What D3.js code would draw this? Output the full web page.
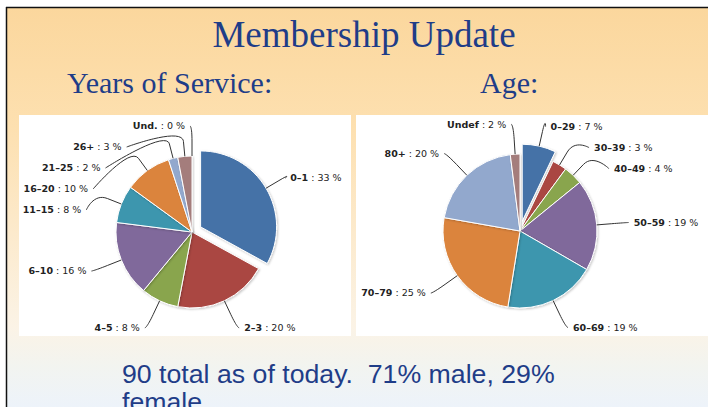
<!DOCTYPE html>
<html>
<head>
<meta charset="utf-8">
<script src="https://cdn.jsdelivr.net/npm/d3@7"></script>
<style>
  html, body { margin: 0; padding: 0; background: #fff; }
  svg { display: block; }
</style>
</head>
<body>
<div id="slide"></div>
<script>
// Years of service (percent)
const serviceCats = ["0–1", "2–3", "4–5", "6–10", "11–15", "16–20", "21–25", "26+", "Und."];
const serviceVals = [33, 20, 8, 16, 8, 10, 2, 3, 0];
// Age (percent)
const ageCats = ["0–29", "30–39", "40–49", "50–59", "60–69", "70–79", "80+", "Undef"];
const ageVals = [7, 3, 4, 19, 19, 25, 20, 2];
// Highcharts style palette
const palette = ["#4572A7", "#AA4643", "#89A54E", "#80699B", "#3D96AE", "#DB843D", "#92A8CD", "#A47D7C", "#B5CA92"];

const W = 708, H = 407;
const svg = d3.select("#slide").append("svg").attr("width", W).attr("height", H);
const defs = svg.append("defs");

// background gradient of the slide
const bg = defs.append("linearGradient").attr("id", "bg").attr("x1", 0).attr("x2", 0).attr("y1", 0).attr("y2", 1);
[[0, "#fbd79d"], [0.3, "#fde0b0"], [0.8, "#fbf3e6"], [0.9, "#f2f4f0"], [1, "#edf3fa"]]
  .forEach(([o, c]) => bg.append("stop").attr("offset", o).attr("stop-color", c));

const sh = defs.append("filter").attr("id", "shadow").attr("x", "-20%").attr("y", "-20%").attr("width", "140%").attr("height", "140%");
sh.append("feDropShadow").attr("dx", 1).attr("dy", 1).attr("stdDeviation", 1.2)
  .attr("flood-color", "#000").attr("flood-opacity", 0.22);

svg.append("rect").attr("x", 7).attr("y", 8).attr("width", W - 7).attr("height", H - 8).attr("fill", "url(#bg)");
svg.append("line").attr("x1", 6.5).attr("x2", 6.5).attr("y1", 7).attr("y2", H).attr("stroke", "#111").attr("stroke-width", 1.5);
svg.append("line").attr("x1", 6).attr("x2", W).attr("y1", 7.5).attr("y2", 7.5).attr("stroke", "#111").attr("stroke-width", 1.5);

const blue = "#1f3d88";
svg.append("text").attr("x", 364).attr("y", 47).attr("text-anchor", "middle")
  .attr("font-family", "Liberation Serif, serif").attr("font-size", 37).attr("fill", blue)
  .text("Membership Update");
svg.append("text").attr("x", 67).attr("y", 93)
  .attr("font-family", "Liberation Serif, serif").attr("font-size", 30).attr("fill", blue)
  .text("Years of Service:");
svg.append("text").attr("x", 480).attr("y", 93)
  .attr("font-family", "Liberation Serif, serif").attr("font-size", 30).attr("fill", blue)
  .text("Age:");

// white chart panels
svg.append("rect").attr("x", 19).attr("y", 115).attr("width", 332).attr("height", 221).attr("fill", "#fff");
svg.append("rect").attr("x", 356).attr("y", 115).attr("width", 352).attr("height", 221).attr("fill", "#fff");

function drawPie(cats, vals, cx, cy, r, slicedIdx) {
  const dist = 30, R = r + dist, off = 10, gap = 21;
  const g = svg.append("g");
  const pie = d3.pie().sort(null).value(d => d.v);
  const arcs = pie(cats.map((c, i) => ({ c, v: vals[i], i })));
  const arc = d3.arc().innerRadius(0).outerRadius(r);

  arcs.forEach(a => {
    a.mid = (a.startAngle + a.endAngle) / 2;
    a.sx = a.data.i === slicedIdx ? off * Math.sin(a.mid) : 0;
    a.sy = a.data.i === slicedIdx ? -off * Math.cos(a.mid) : 0;
    a.left = a.mid >= Math.PI;
    a.nx = cx + R * Math.sin(a.mid);
    a.ny = cy - R * Math.cos(a.mid);
    a.y = a.ny;
  });

  // spread labels on each side so they do not overlap
  [false, true].forEach(side => {
    const list = arcs.filter(a => a.left === side).sort((p, q) => p.ny - q.ny);
    const top = cy - R, bot = cy + R;
    list.forEach((a, k) => {
      a.y = Math.max(a.ny, top, k ? list[k - 1].y + gap : top);
    });
    for (let k = list.length - 1; k >= 0; k--) {
      const lim = k === list.length - 1 ? bot : list[k + 1].y - gap;
      if (list[k].y > lim) list[k].y = lim;
    }
    list.forEach(a => {
      const dy = a.y - cy;
      a.x = Math.abs(a.y - a.ny) > 1
        ? cx + (side ? -1 : 1) * Math.sqrt(Math.max(0, R * R - dy * dy))
        : a.nx;
    });
  });

  g.selectAll("path.slice").data(arcs).join("path")
    .attr("class", "slice")
    .attr("transform", a => `translate(${cx + a.sx},${cy + a.sy})`)
    .attr("d", arc)
    .attr("fill", a => palette[a.data.i])
    .attr("stroke", "#fff").attr("stroke-width", 1)
    .attr("filter", "url(#shadow)");

  // soft connectors
  g.selectAll("path.conn").data(arcs).join("path")
    .attr("class", "conn")
    .attr("fill", "none").attr("stroke", "#333").attr("stroke-width", 1)
    .attr("d", a => {
      const dir = a.left ? -1 : 1;
      const x0 = a.x + dir * 2, y0 = a.y;
      const bx = cx + a.sx + (r + dist / 2) * Math.sin(a.mid), by = cy + a.sy - (r + dist / 2) * Math.cos(a.mid);
      const ex = cx + a.sx + r * Math.sin(a.mid), ey = cy + a.sy - r * Math.cos(a.mid);
      return `M${x0},${y0}C${x0},${y0} ${2 * bx - ex},${2 * by - ey} ${bx},${by}L${ex},${ey}`;
    });

  const lab = g.selectAll("text.lab").data(arcs).join("text")
    .attr("class", "lab")
    .attr("x", a => a.x + (a.left ? -7 : 7))
    .attr("y", a => a.y).attr("dy", "0.35em")
    .attr("text-anchor", a => a.left ? "end" : "start")
    .attr("font-family", "DejaVu Sans, sans-serif").attr("font-size", 9.5).attr("fill", "#222");
  lab.append("tspan").attr("font-weight", "bold").text(a => a.data.c);
  lab.append("tspan").text(a => " : " + a.data.v + " %");
}

drawPie(serviceCats, serviceVals, 192, 232, 76, 0);
drawPie(ageCats, ageVals, 520, 231, 77, 0);

svg.append("text").attr("x", 122).attr("y", 383)
  .attr("font-family", "Liberation Sans, Arial, sans-serif").attr("font-size", 26.7).attr("fill", blue)
  .attr("xml:space", "preserve")
  .text("90 total as of today.  71% male, 29%");
svg.append("text").attr("x", 122).attr("y", 411)
  .attr("font-family", "Liberation Sans, Arial, sans-serif").attr("font-size", 26.7).attr("fill", blue)
  .text("female");
</script>
</body>
</html>
